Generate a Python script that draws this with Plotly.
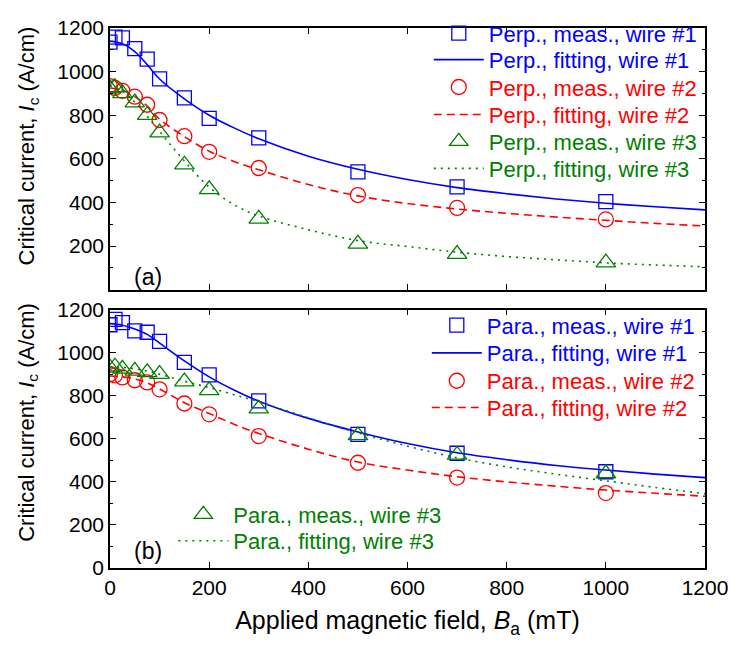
import plotly.graph_objects as go

# ---------------- data ----------------
field_meas = [0, 10, 25, 50, 75, 100, 150, 200, 300, 500, 700, 1000]
field_fit = [0, 25, 50, 75, 100, 150, 200, 250, 300, 400, 500, 600, 700, 800, 900, 1000, 1100, 1200]

perp_meas_w1 = [1135, 1158, 1155, 1105, 1057, 967, 880, 786, 696, 540, 471, 404]
perp_meas_w2 = [933, 925, 912, 885, 848, 778, 704, 632, 558, 434, 375, 322]
perp_meas_w3 = [922, 928, 900, 858, 800, 720, 573, 460, 325, 210, 163, 124]

perp_fit_w1 = [1140, 1128, 1092, 1032, 966, 875, 800, 742, 692, 612, 552, 505, 468, 440, 416, 396, 380, 366]
perp_fit_w2 = [925, 915, 885, 842, 782, 702, 635, 588, 550, 482, 430, 395, 370, 350, 333, 318, 304, 292]
perp_fit_w3 = [935, 910, 860, 795, 725, 590, 470, 390, 338, 275, 225, 198, 172, 152, 137, 123, 113, 105]

para_meas_w1 = [1130, 1155, 1140, 1101, 1095, 1053, 955, 897, 776, 621, 533, 447]
para_meas_w2 = [900, 895, 885, 872, 862, 830, 764, 714, 613, 489, 420, 348]
para_meas_w3 = [930, 935, 925, 916, 909, 901, 866, 825, 740, 616, 525, 439]

para_fit_w1 = [1135, 1128, 1110, 1085, 1045, 962, 888, 827, 775, 695, 632, 578, 535, 503, 476, 455, 436, 420]
para_fit_w2 = [892, 888, 878, 860, 832, 768, 718, 668, 625, 552, 492, 455, 424, 400, 380, 362, 347, 333]
para_fit_w3 = [935, 932, 925, 915, 900, 868, 838, 805, 772, 698, 628, 566, 512, 470, 436, 405, 374, 345]

x_ticks = [0, 200, 400, 600, 800, 1000, 1200]
y_ticks_top = [200, 400, 600, 800, 1000, 1200]
y_ticks_bottom = [0, 200, 400, 600, 800, 1000, 1200]

BLUE = "#0000FF"
RED = "#FF0000"
GREEN = "#008000"
FONT = "Liberation Sans, Arial, sans-serif"

T, B = 17, 80
PH = 648 - T - B
L, R = 110, 29
PW = 740 - L - R

def py2paper(py):
    return (648 - B - py) / PH

def px2paper(px):
    return (px - L) / PW

fig = go.Figure()
legends = {}
legend_counter = [0]

def new_legend(color, left_px, row_py):
    legend_counter[0] += 1
    key = "legend" if legend_counter[0] == 1 else "legend%d" % legend_counter[0]
    legends[key] = dict(
        x=px2paper(left_px), y=py2paper(row_py - 27), xanchor="left", yanchor="top",
        xref="paper", yref="paper",
        font=dict(family=FONT, size=22, color=color),
        bgcolor="rgba(0,0,0,0)", borderwidth=0, itemwidth=50,
    )
    return key

def add_pair(x_m, y_m, x_f, y_f, color, symbol, dash, name_m, name_f, xa, ya,
             left_px, row_m, row_f, msize):
    lg_m = new_legend(color, left_px, row_m)
    lg_f = new_legend(color, left_px, row_f)
    fig.add_trace(go.Scatter(
        x=x_f, y=y_f, mode="lines", line=dict(color=color, width=1.6, dash=dash, shape="spline"),
        name=name_f, xaxis=xa, yaxis=ya, legend=lg_f, showlegend=True))
    fig.add_trace(go.Scatter(
        x=x_m, y=y_m, mode="markers",
        marker=dict(symbol=symbol, size=msize, color=color, line=dict(color=color, width=1.3)),
        name=name_m, xaxis=xa, yaxis=ya, legend=lg_m, showlegend=True))

DASH = "8px,5px"
DOT = "2px,5px"
LEG_X = 432

# panel (a) perpendicular
add_pair(field_meas, perp_meas_w1, field_fit, perp_fit_w1, BLUE, "square-open", "solid",
         "Perp., meas., wire #1", "Perp., fitting, wire #1", "x", "y", LEG_X, 28, 55, 14)
add_pair(field_meas, perp_meas_w2, field_fit, perp_fit_w2, RED, "circle-open", DASH,
         "Perp., meas., wire #2", "Perp., fitting, wire #2", "x", "y", LEG_X, 83, 111, 15)
add_pair(field_meas, perp_meas_w3, field_fit, perp_fit_w3, GREEN, "triangle-up-open", DOT,
         "Perp., meas., wire #3", "Perp., fitting, wire #3", "x", "y", LEG_X, 138.5, 166, 17)

# panel (b) parallel
add_pair(field_meas, para_meas_w1, field_fit, para_fit_w1, BLUE, "square-open", "solid",
         "Para., meas., wire #1", "Para., fitting, wire #1", "x2", "y2", LEG_X - 2, 326, 354.3, 14)
add_pair(field_meas, para_meas_w2, field_fit, para_fit_w2, RED, "circle-open", DASH,
         "Para., meas., wire #2", "Para., fitting, wire #2", "x2", "y2", LEG_X - 2, 382.7, 410, 15)
add_pair(field_meas, para_meas_w3, field_fit, para_fit_w3, GREEN, "triangle-up-open", DOT,
         "Para., meas., wire #3", "Para., fitting, wire #3", "x2", "y2", 174, 519, 546, 17)

axis_common = dict(
    range=[0, 1200], showline=True, linecolor="black", linewidth=1.5, mirror="allticks",
    ticks="inside", ticklen=6, tickwidth=1.3, tickcolor="black",
    showgrid=False, zeroline=False,
    tickfont=dict(family=FONT, size=21, color="black"),
)
minor_y = dict(dtick=100, ticks="inside", ticklen=3, tickcolor="black", tickwidth=1.2)

ytitle = "Critical current, <i>I</i><sub>c</sub> (A/cm)"

fig.update_layout(
    width=740, height=648,
    margin=dict(l=L, r=R, t=T, b=B),
    paper_bgcolor="white", plot_bgcolor="white",
    font=dict(family=FONT, color="black"),
    showlegend=True,
    xaxis=dict(axis_common, domain=[0, 1], anchor="y", tickvals=x_ticks, showticklabels=False),
    yaxis=dict(axis_common, domain=[py2paper(284), 1], anchor="x", tickvals=y_ticks_top,
               minor=minor_y),
    xaxis2=dict(axis_common, domain=[0, 1], anchor="y2", tickvals=x_ticks,
                title=dict(text="Applied magnetic field, <i>B</i><sub>a</sub> (mT)",
                           font=dict(family=FONT, size=25), standoff=14)),
    yaxis2=dict(axis_common, domain=[0, py2paper(304.4)], anchor="x2", tickvals=y_ticks_bottom,
                minor=minor_y),
    annotations=[
        dict(text=ytitle, x=px2paper(27), y=py2paper(137), xref="paper", yref="paper",
             xanchor="center", yanchor="middle", textangle=-90, showarrow=False,
             font=dict(family=FONT, size=22, color="black")),
        dict(text=ytitle, x=px2paper(27), y=py2paper(419), xref="paper", yref="paper",
             xanchor="center", yanchor="middle", textangle=-90, showarrow=False,
             font=dict(family=FONT, size=22, color="black")),
        dict(text="(a)", x=px2paper(148), y=py2paper(271), xref="paper", yref="paper",
             xanchor="center", yanchor="middle",
             showarrow=False, font=dict(family=FONT, size=23, color="black")),
        dict(text="(b)", x=px2paper(148), y=py2paper(551), xref="paper", yref="paper",
             xanchor="center", yanchor="middle",
             showarrow=False, font=dict(family=FONT, size=23, color="black")),
    ],
    **legends,
)

fig.write_html("out.html")
